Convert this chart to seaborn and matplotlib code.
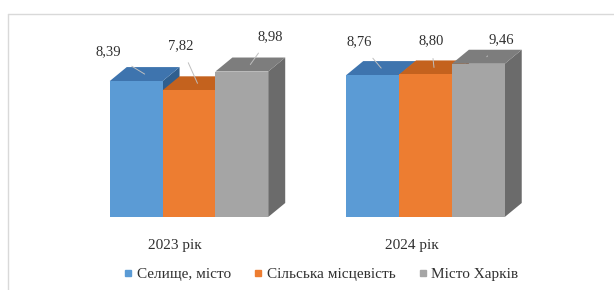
import numpy as np
import pandas as pd
import matplotlib
matplotlib.use('Agg')
import matplotlib.pyplot as plt
from matplotlib.patches import Polygon
from matplotlib.lines import Line2D
import seaborn as sns

# data
years = ['2023 рік', '2024 рік']
categories = ['Селище, місто', 'Сільська місцевість', 'Місто Харків']
values_2023 = [8.39, 7.82, 8.98]
values_2024 = [8.76, 8.80, 9.46]

front_colors = ['#5B9BD5', '#ED7D31', '#A5A5A5']
top_colors = ['#3E74AE', '#C4621E', '#7D7D7D']
side_colors = ['#2F5F8F', '#A8501A', '#6B6B6B']

# label offsets (pixels) from the anchor on each bar top, by year then category
label_offsets = [[(-36, 22), (-17, 38), (20, 28)],
                 [(-22, 26), (-3, 27), (14, 17)]]

sns.set_style('white')
plt.rcParams['font.family'] = ['Liberation Serif', 'DejaVu Serif']
serif = ['Liberation Serif', 'DejaVu Serif']
text_color = '#303030'

df = pd.DataFrame({
    'year': np.repeat(years, len(categories)),
    'category': categories * len(years),
    'value': values_2023 + values_2024,
})

fig = plt.figure(figsize=(6.14, 2.90), dpi=100)
ax = fig.add_axes([0, 0, 1, 1])
sns.barplot(data=df, x='year', y='value', hue='category', hue_order=categories,
            palette=front_colors, width=0.67, gap=0, saturation=1,
            legend=False, ax=ax)

# axis scaling (pixels per unit)
ax.set_xlim(-0.799, 1.797)
ax.set_ylim(-4.506, 13.395)
ax.set_axis_off()

# depth of the 3D effect in data units
dx = 17 / 236.5
dy = 14 / 16.2

# collect bars with their category index, then redraw them as 3D blocks
bars = []
for ci, cont in enumerate(ax.containers):
    for yi, p in enumerate(cont.patches):
        bars.append((p.get_x(), ci, yi, p))
bars.sort(key=lambda b: b[0])

for k, (x0, ci, yi, p) in enumerate(bars):
    w = p.get_width()
    h = p.get_height()
    x1 = x0 + w
    z = 2 + k * 3
    side = Polygon([(x1, 0), (x1 + dx, dy), (x1 + dx, h + dy), (x1, h)],
                   closed=True, facecolor=side_colors[ci], edgecolor='none', zorder=z)
    top = Polygon([(x0, h), (x0 + dx, h + dy), (x1 + dx, h + dy), (x1, h)],
                  closed=True, facecolor=top_colors[ci], edgecolor='none', zorder=z + 1)
    ax.add_patch(side)
    ax.add_patch(top)
    p.set_zorder(z + 2)
    p.set_edgecolor('none')

    val = df['value'].iloc[yi * len(categories) + ci]
    ox, oy = label_offsets[yi][ci]
    ax.annotate(f'{val:.2f}'.replace('.', ','),
                xy=(x0 + w / 2 + dx / 2, h + dy / 2), xytext=(ox, oy),
                textcoords='offset pixels', ha='center', va='center',
                fontsize=10.5, family=serif, color=text_color, zorder=50,
                arrowprops=dict(arrowstyle='-', color='#BFBFBF', lw=0.7,
                                shrinkA=6, shrinkB=0))

# category labels under each group
for i, yr in enumerate(years):
    ax.annotate(yr, xy=(i, 0), xytext=(-14, -28), textcoords='offset pixels',
                ha='center', va='center', fontsize=11, family=serif, color=text_color)

# legend
handles = [Line2D([], [], marker='s', linestyle='none', markersize=4.5,
                  markerfacecolor=c, markeredgecolor=c) for c in front_colors]
leg = fig.legend(handles, categories, loc='center', bbox_to_anchor=(0.523, 0.055),
                 ncol=3, frameon=False, fontsize=11,
                 handlelength=0.6, handletextpad=0.25, columnspacing=1.5)
for t in leg.get_texts():
    t.set_fontfamily(serif)
    t.set_color(text_color)

# chart area border
fig.add_artist(Line2D([7.5 / 614, 7.5 / 614], [0, 1 - 14 / 290],
                      transform=fig.transFigure, color='#D9D9D9', lw=1))
fig.add_artist(Line2D([7.5 / 614, 1], [1 - 14 / 290, 1 - 14 / 290],
                      transform=fig.transFigure, color='#D9D9D9', lw=1))

fig.savefig('out.png', dpi=100)
